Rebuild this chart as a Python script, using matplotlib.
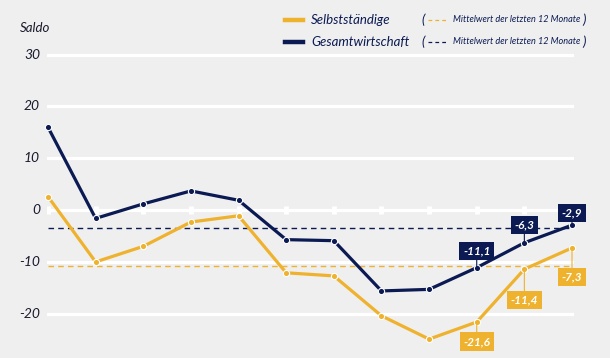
import numpy as np
import matplotlib.pyplot as plt

# values (Saldo)
months = list(range(12))
gesamt = [16.0, -1.6, 1.2, 3.7, 1.9, -5.7, -5.9, -15.6, -15.3, -11.1, -6.3, -2.9]
selbst = [2.6, -10.0, -7.0, -2.3, -1.1, -12.1, -12.7, -20.4, -24.9, -21.6, -11.4, -7.3]
mean_gesamt = -3.5
mean_selbst = -10.7
yticks = [-20, -10, 0, 10, 20, 30]

# labelled points: index, text, offset (points)
lab_gesamt = [(9, "-11,1", 12), (10, "-6,3", 13), (11, "-2,9", 9)]
lab_selbst = [(9, "-21,6", -14), (10, "-11,4", -22), (11, "-7,3", -21)]

NAVY = "#0b1a52"
GOLD = "#eeb22e"
BG = "#efefef"

plt.rcParams['font.family'] = ['Lato', 'DejaVu Sans']

fig = plt.figure(figsize=(6.1, 3.58), dpi=100)
fig.patch.set_facecolor(BG)
ax = fig.add_axes([47/610, 8/358, 527/610, 300/358])
ax.set_facecolor(BG)
ax.set_xlim(-0.021, 11.042)
ax.set_ylim(-27.0, 30.9)
for s in ax.spines.values():
    s.set_visible(False)
ax.set_xticks([])
ax.set_yticks([])

for t in yticks:
    ax.axhline(t, color="white", lw=2.3, zorder=1)
    fig.text(40/610, (358 - (210 - t*5.18))/358, str(t), ha="right", va="center",
             fontsize=10, style="italic", color="#1a1a2e")
ax.plot(months, [0]*12, ls="none", marker="|", ms=6, mew=3.5, color="white", zorder=1)

ax.hlines(mean_gesamt, 0, 11, colors=NAVY, lw=1.0, linestyles=(0, (4, 3)), zorder=2)
ax.hlines(mean_selbst, 0, 11, colors=GOLD, lw=1.0, linestyles=(0, (4, 3)), zorder=2)

ax.plot(months, selbst, color=GOLD, lw=2.3, marker="o", ms=4.5, mec="white", mew=0.8,
        clip_on=False, zorder=3)
ax.plot(months, gesamt, color=NAVY, lw=2.3, marker="o", ms=4.5, mec="white", mew=0.8,
        clip_on=False, zorder=4)

def labels(series, items, col):
    for i, txt, off in items:
        ax.annotate(txt, (months[i], series[i]), xytext=(0, off), textcoords="offset points",
                    ha="center", va="center", fontsize=8.5, fontweight="bold", style="italic",
                    color="white", zorder=6,
                    bbox=dict(boxstyle="square,pad=0.3", fc=col, ec="none"),
                    arrowprops=dict(arrowstyle="-", color=col, lw=0.8, shrinkA=0, shrinkB=0))

labels(gesamt, lab_gesamt, NAVY)
labels(selbst, lab_selbst, GOLD)

# header
fig.text(20/610, 1 - 28/358, "Saldo", fontsize=9.5, style="italic", color="#1a1a2e", va="center")
fig.add_artist(plt.Line2D([285/610, 303/610], [1 - 20/358]*2, color=GOLD, lw=3.2))
fig.add_artist(plt.Line2D([285/610, 303/610], [1 - 42/358]*2, color=NAVY, lw=3.2))
fig.text(311/610, 1 - 20/358, "Selbstständige", fontsize=9.5, style="italic", color=NAVY, va="center")
fig.text(311/610, 1 - 42/358, "Gesamtwirtschaft", fontsize=9.5, style="italic", color=NAVY, va="center")
for yy, col in [(20, GOLD), (42, NAVY)]:
    fig.text(421/610, 1 - yy/358, "(", fontsize=9.5, style="italic", color=NAVY, va="center")
    fig.add_artist(plt.Line2D([428/610, 448/610], [1 - yy/358]*2, color=col, lw=0.9,
                              ls=(0, (3, 2.5))))
    fig.text(453/610, 1 - yy/358, "Mittelwert der letzten 12 Monate", fontsize=6.6,
             style="italic", color=NAVY, va="center")
    fig.text(582/610, 1 - yy/358, ")", fontsize=9.5, style="italic", color=NAVY, va="center")

fig.savefig("out.png", dpi=100, facecolor=BG)
